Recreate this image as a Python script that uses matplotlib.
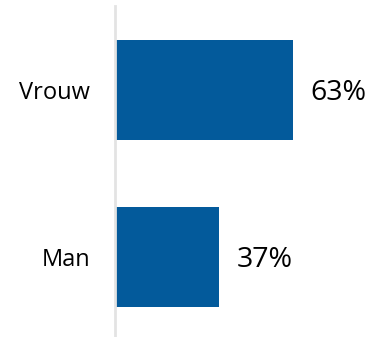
import matplotlib
matplotlib.use("Agg")
import matplotlib.pyplot as plt

# data
categories = ["Man", "Vrouw"]
values = [37, 63]
labels = ["37%", "63%"]

plt.rcParams['font.family'] = ['Open Sans', 'DejaVu Sans']

fig = plt.figure(figsize=(3.70, 3.37), dpi=100)
ax = fig.add_axes([115 / 370, 0, 255 / 370, 331 / 337])

bars = ax.barh(range(len(categories)), values, height=0.6, color='#035a9b')

ax.set_xlim(0, 90.4)
ax.set_ylim(-0.479, 1.503)

for bar, lab in zip(bars, labels):
    ax.annotate(lab, (bar.get_width(), bar.get_y() + bar.get_height() / 2),
                xytext=(12.5, -2.5), textcoords='offset points',
                ha='left', va='center', fontsize=20.5, color='black')

ax.set_yticks(range(len(categories)))
ax.set_yticklabels(categories, fontsize=17)
ax.tick_params(axis='y', length=0, pad=18)
ax.set_xticks([])

for side in ['top', 'right', 'bottom']:
    ax.spines[side].set_visible(False)
ax.spines['left'].set_color('#e3e3e3')
ax.spines['left'].set_linewidth(2)

fig.savefig('out.png', dpi=100)
